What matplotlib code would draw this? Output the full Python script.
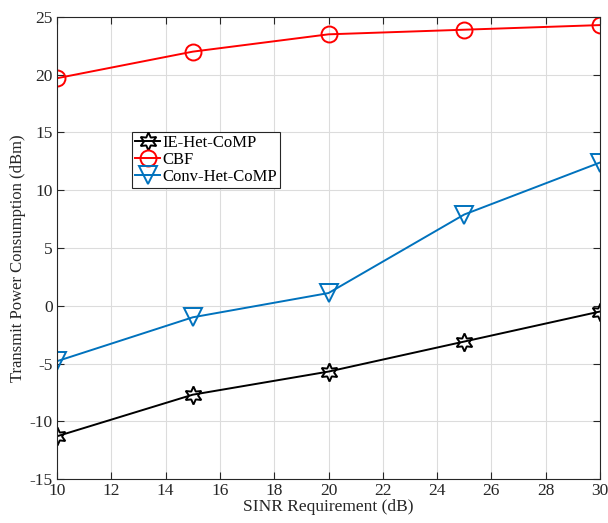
import matplotlib
matplotlib.use("Agg")
from matplotlib import pyplot as plt

# SINR requirement (dB)
sinr_x = [10, 15, 20, 25, 30]

# transmit power (dBm)
ie_het_comp = [-11.3, -7.7, -5.7, -3.1, -0.5]
cbf = [19.7, 22.0, 23.5, 23.9, 24.3]
conv_het_comp = [-4.8, -1.0, 1.1, 7.9, 12.4]

plt.rcParams['font.family'] = ['Liberation Serif', 'DejaVu Serif']
plt.rcParams['font.size'] = 12.5
plt.rcParams['axes.unicode_minus'] = False

fig = plt.figure(figsize=(6.08, 5.23), dpi=100)
ax = fig.add_axes([57 / 608, 44 / 523, 543 / 608, 462 / 523])

# six pointed star ~ matlab hexagram
plt.plot(sinr_x, ie_het_comp, color='k', marker=(6, 1, 0), markersize=13,
         markerfacecolor='none', markeredgewidth=1.4, linewidth=1.4, label="IE-Het-CoMP")
plt.plot(sinr_x, cbf, color='#FF0000', marker='o', markersize=11.5,
         markerfacecolor='none', markeredgewidth=1.4, linewidth=1.4, label="CBF")
plt.plot(sinr_x, conv_het_comp, color='#0072BD', marker='v', markersize=12.5,
         markerfacecolor='none', markeredgewidth=1.4, linewidth=1.4, label="Conv-Het-CoMP")

plt.xlim(10, 30)
plt.ylim(-15, 25)
plt.xticks(range(10, 31, 2))
plt.yticks(range(-15, 26, 5))
plt.grid(True, color='#DCDCDC', linewidth=0.8)
ax.set_axisbelow(True)
ax.tick_params(direction='in', top=True, right=True, length=5, pad=3,
               color='#262626', labelcolor='#262626')
for s in ax.spines.values():
    s.set_color('#262626')
    s.set_linewidth(0.8)

plt.xlabel("SINR Requirement (dB)", color='#262626', labelpad=0)
plt.ylabel("Transmit Power Consumption (dBm)", color='#262626', labelpad=1, fontsize=12)
ax.yaxis.set_label_coords(-0.058, 0.478)

leg = plt.legend(loc='upper left', bbox_to_anchor=(0.138, 0.752), fancybox=False,
                 framealpha=1, edgecolor='#262626', borderpad=0.2, labelspacing=0.05,
                 handlelength=1.5, handletextpad=0.1, borderaxespad=0, fontsize=12)
leg.get_frame().set_linewidth(0.8)

plt.savefig("out.png", dpi=100)
